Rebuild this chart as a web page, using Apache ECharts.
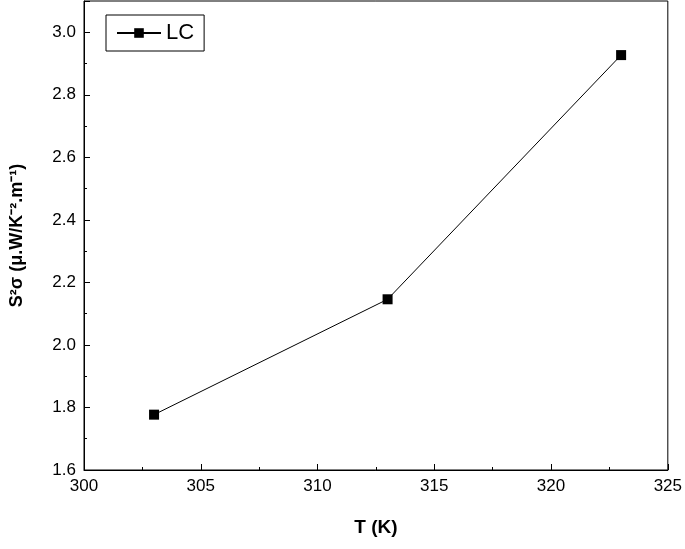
<!DOCTYPE html>
<html><head><meta charset="utf-8">
<script src="https://cdn.jsdelivr.net/npm/echarts@6/dist/echarts.min.js"></script>
<style>html,body{margin:0;padding:0;background:#fff}#c{width:685px;height:549px}</style>
</head><body><div id="c"></div>
<script>
const temps = [303, 313, 323];
const powerFactor = [1.777, 2.146, 2.927];
const seriesName = 'LC';
const chart = echarts.init(document.getElementById('c'));
const ax = {
  axisLine: {show: true, onZero: false, lineStyle: {color: '#000', width: 1}},
  axisTick: {show: true, inside: true, length: 6, lineStyle: {color: '#000'}},
  minorTick: {show: true, splitNumber: 2, length: 3, lineStyle: {color: '#000'}},
  splitLine: {show: false},
  axisLabel: {color: '#000', fontSize: 17, fontFamily: 'Liberation Sans'}
};
chart.setOption({
  animation: false,
  grid: {left: 82, right: 17, top: 1, bottom: 79, show: true, borderColor: '#000', borderWidth: 1},
  legend: {
    left: 106, top: 15, data: [seriesName], borderColor: '#000', borderWidth: 1,
    padding: [7, 10, 7, 10], itemWidth: 44, itemHeight: 12, itemGap: 4,
    textStyle: {fontSize: 22, color: '#000', fontFamily: 'Liberation Sans'}
  },
  xAxis: Object.assign({type: 'value', min: 300, max: 325, interval: 5,
    name: 'T (K)', nameLocation: 'middle', nameGap: 48,
    nameTextStyle: {fontSize: 19, fontWeight: 'bold', color: '#000', fontFamily: 'Liberation Sans'}}, ax),
  yAxis: Object.assign({type: 'value', min: 1.6, max: 3.1, interval: 0.2,
    name: 'S²σ (μ.W/K⁻².m⁻¹)', nameLocation: 'middle', nameGap: 58,
    nameTextStyle: {fontSize: 18, fontWeight: 'bold', color: '#000', fontFamily: 'Liberation Sans'}},
    ax, {axisLabel: {color: '#000', fontSize: 17, fontFamily: 'Liberation Sans', formatter: v => v.toFixed(1), showMaxLabel: false}}),
  series: [{
    name: seriesName, type: 'line', data: temps.map((t, i) => [t, powerFactor[i]]),
    symbol: 'rect', symbolSize: 10, itemStyle: {color: '#000'},
    lineStyle: {color: '#000', width: 1}
  }]
});
</script></body></html>
